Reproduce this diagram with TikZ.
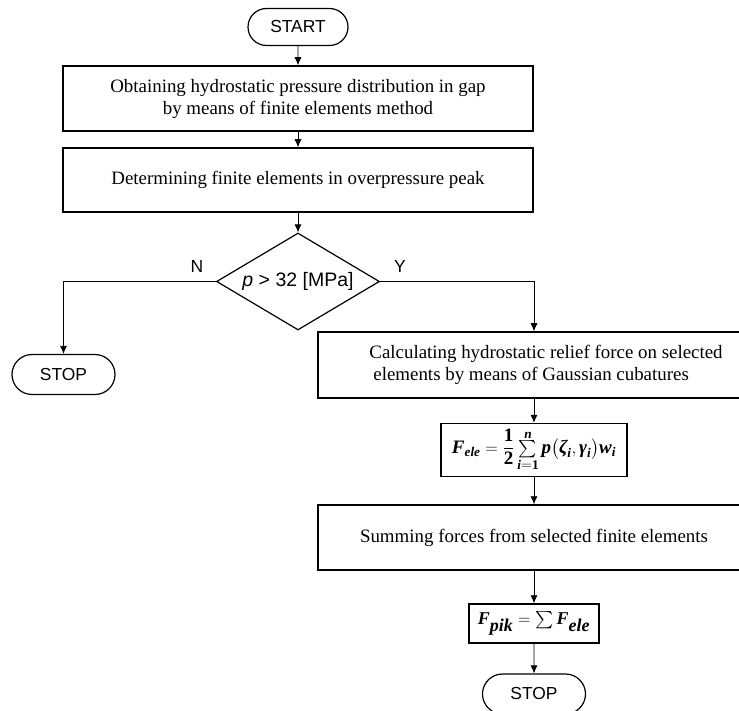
\documentclass[tikz,border=0pt]{standalone}
\usepackage{amsmath}
\usepackage{fontspec}
\setmainfont{Liberation Serif}
\setsansfont{Liberation Sans}
\usetikzlibrary{shapes.geometric,shapes.misc,arrows.meta}

\newcommand{\bi}[1]{\text{\bfseries\itshape #1}}
\newcommand{\feleformula}{$\bi{F}_{\bi{ele}}=\dfrac{\textbf{1}}{\textbf{2}}\sum\limits_{\bi{i}=\textbf{1}}^{\text{\raisebox{-3pt}{\bfseries\itshape n}}}\bi{p}\bigl(\bi{ζ}_{\bi{i}},\bi{γ}_{\bi{i}}\bigr)\bi{w}_{\bi{i}}$}
\newcommand{\fpikformula}{\fontsize{18}{20}\selectfont$\bi{F}_{\textstyle\bi{pik}}=\sum\bi{F}_{\textstyle\bi{ele}}$}

\tikzset{
  procbox/.style={draw,line width=1.5pt,inner sep=0pt,align=center,
    font=\fontsize{18.9}{22}\selectfont},
  mathbox/.style={draw,line width=1.5pt,inner sep=0pt,font=\fontsize{19}{20}\selectfont},
  term/.style={rounded rectangle,draw,line width=1.2pt,inner sep=0pt,
    minimum width=103pt,minimum height=40pt,font=\sffamily\fontsize{17.4}{20}\selectfont},
  decide/.style={diamond,draw,line width=1.2pt,inner sep=0pt,shape aspect=1.7,
    minimum width=163pt,minimum height=97pt,font=\sffamily\fontsize{19.5}{20}\selectfont},
  yesno/.style={font=\sffamily\fontsize{17.5}{20}\selectfont},
  flow/.style={-{Latex[length=8pt,width=7pt]},line width=0.8pt}
}

\begin{document}
\begin{tikzpicture}[x=1pt,y=-1pt]
\useasboundingbox (0,0) rectangle (739,711);
\node[term,minimum width=100pt,minimum height=37pt] (start) at (298,27) {START};
\node[procbox,minimum width=470pt,minimum height=65pt] (obtain) at (298,98.5)
  {Obtaining hydrostatic pressure distribution in gap\\ by means of finite elements method};
\node[procbox,minimum width=470pt,minimum height=64pt] (determ) at (298,180)
  {Determining finite elements in overpressure peak};
\node[decide] (check) at (298,281.5) {\textit{p} > 32 [MPa]};
\node[yesno] (lblN) at (197,266) {N};
\node[yesno] (lblY) at (400,266) {Y};
\node[term] (stopA) at (63.5,374.5) {STOP};
\node[procbox,align=left,minimum width=432pt,minimum height=66pt] (calc) at (534,365)
  {\hspace*{24pt}Calculating hydrostatic relief force on selected\\ \hspace*{28pt}elements by means of Gaussian cubatures};
\node[mathbox,minimum width=186pt,minimum height=53pt] (fele) at (534,450) {\feleformula};
\node[procbox,minimum width=432pt,minimum height=65pt] (summ) at (534,537.5)
  {Summing forces from selected finite elements};
\node[mathbox,minimum width=130pt,minimum height=39pt] (fpik) at (534,623.5) {\fpikformula};
\node[term] (stopB) at (534,694) {STOP};

\draw[flow] (start) -- (obtain);
\draw[flow] (obtain) -- (determ);
\draw[flow] (determ) -- (check);
\draw[flow] (check.west) -| (stopA);
\draw[flow] (check.east) -| (calc);
\draw[flow] (calc) -- (fele);
\draw[flow] (fele) -- (summ);
\draw[flow] (summ) -- (fpik);
\draw[flow] (fpik) -- (stopB);
\end{tikzpicture}
\end{document}
